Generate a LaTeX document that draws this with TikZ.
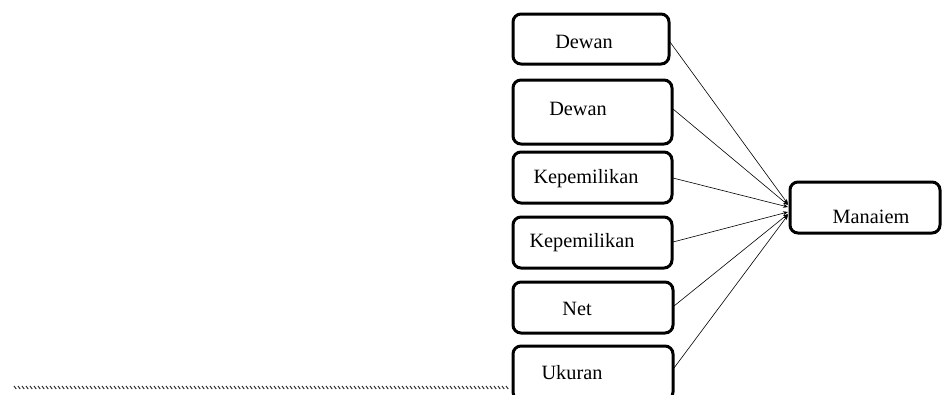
\documentclass[tikz,border=0pt]{standalone}
\usepackage{fontspec}
\setmainfont{Liberation Serif}
\usetikzlibrary{arrows.meta}
\begin{document}
\begin{tikzpicture}[x=1pt,y=-1pt,
  boxstyle/.style={draw=black, line width=3pt, rounded corners=8pt},
  lbl/.style={font=\fontsize{20.3}{24}\selectfont, inner sep=0pt, anchor=center},
  link/.style={line width=0.6pt, -{Stealth[length=5pt,width=4pt]}}]
\useasboundingbox (0,0) rectangle (943,394);
% boxes
\draw[boxstyle] (513,14) rectangle (669,64);
\draw[boxstyle] (513,80) rectangle (672,144);
\draw[boxstyle] (513,152) rectangle (672,203);
\draw[boxstyle] (513,217) rectangle (672,268);
\draw[boxstyle] (513,282) rectangle (673,333);
\draw[boxstyle] (513,346) rectangle (673,400);
\draw[boxstyle] (790,182) rectangle (940,233);
% labels
\node[lbl] (d1) at (584,42) {Dewan};
\node[lbl] (d2) at (578,109) {Dewan};
\node[lbl] (k1) at (586,179) {Kepemilikan};
\node[lbl] (k2) at (582,243) {Kepemilikan};
\node[lbl] (n1) at (577,309) {Net};
\node[lbl] (u1) at (572,373) {Ukuran};
\node[lbl] (m1) at (871,217) {Manaiem};
% anchor coordinates
\coordinate (s1) at (670,42);
\coordinate (s2) at (673,109);
\coordinate (s3) at (673,178);
\coordinate (s4) at (673,242);
\coordinate (s5) at (674,306);
\coordinate (s6) at (674,368);
\coordinate (e1) at (788,204);
\coordinate (e2) at (788,205);
\coordinate (e3) at (788,207);
\coordinate (e4) at (788,212);
\coordinate (e5) at (788,214);
\coordinate (e6) at (788,215);
\foreach \i in {1,...,6} \draw[link] (s\i) -- (e\i);
% dotted baseline
\foreach \x in {14,18,...,508} \draw[line width=1pt, black!80] (\x,386) -- (\x+2.2,389);
\end{tikzpicture}
\end{document}
